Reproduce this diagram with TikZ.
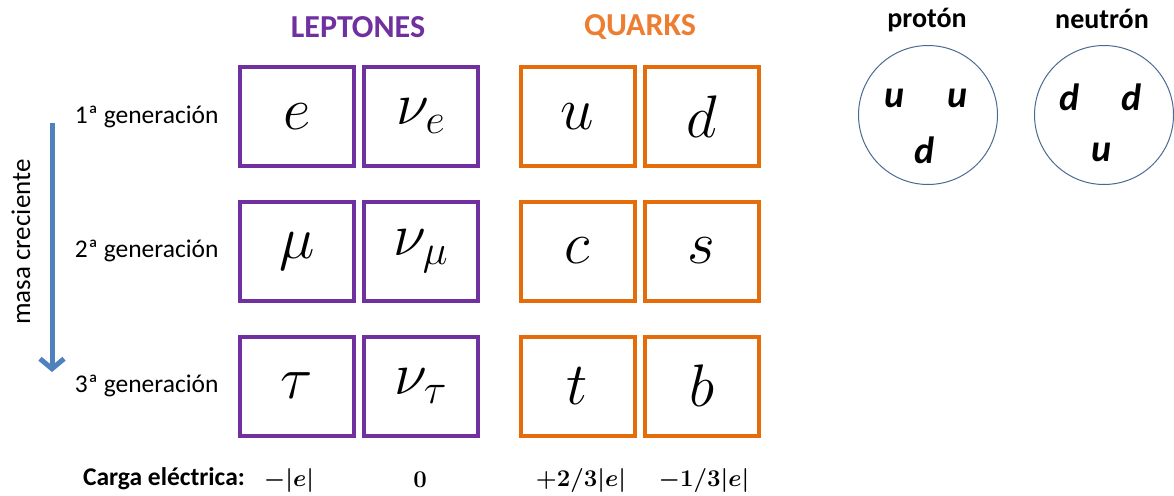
\RequirePackage{fix-cm}
\documentclass[tikz,border=0pt]{standalone}
\usepackage{fontspec}
\setmainfont{Carlito}
\usetikzlibrary{arrows.meta}
\definecolor{leptonpurple}{HTML}{7030A0}
\definecolor{quarkorange}{HTML}{E46C0A}
\definecolor{titleorange}{HTML}{ED7D31}
\definecolor{massblue}{HTML}{4F81BD}
\definecolor{hadronblue}{HTML}{4A6A94}
\begin{document}
\begin{tikzpicture}[x=1pt, y=-1pt,
    particle/.style={draw, line width=4pt, text=black, inner sep=0pt,
      minimum width=114pt, minimum height=99pt,
      font=\fontsize{60}{66}\selectfont},
    lepton/.style={particle, draw=leptonpurple},
    quark/.style={particle, draw=quarkorange},
    genlabel/.style={anchor=east, font=\fontsize{25.5}{28}\selectfont},
    charge/.style={font=\fontsize{24}{27}\selectfont\bfseries\boldmath},
    hadron/.style={draw=hadronblue, line width=1pt, circle, minimum size=139pt},
    constituent/.style={font=\fontsize{38}{42}\selectfont\bfseries\itshape}]
  \useasboundingbox (0,0) rectangle (1174,495);
  % --- titulos ---
  \node[font=\fontsize{32}{36}\selectfont\bfseries, text=leptonpurple] (leptones) at (358,27) {LEPTONES};
  \node[font=\fontsize{32}{36}\selectfont\bfseries, text=titleorange] (quarks) at (640,27) {QUARKS};
  % --- generaciones ---
  \foreach \g/\y in {1/116.5, 2/251, 3/386}{
    \node[genlabel] (gen\g) at (222, \y) {\g\textordfeminine{} generación};
  }
  % --- leptones ---
  \foreach \name/\sym/\x/\y in {e/e/297/116.5, nue/\nu_e/421/116.5,
    mu/\mu/297/251, numu/\nu_\mu/421/251,
    tau/\tau/297/386, nutau/\nu_\tau/421/386}{
    \node[lepton] (\name) at (\x, \y) {$\sym$};
  }
  % --- quarks ---
  \foreach \name/\sym/\x/\y in {u/u/577.5/116.5, d/d/701.5/116.5,
    c/c/577.5/251, s/s/701.5/251,
    t/t/577.5/386, b/b/701.5/386}{
    \node[quark] (\name) at (\x, \y) {$\sym$};
  }
  % --- masa creciente ---
  \coordinate (masstop) at (52,123);
  \coordinate (massbot) at (52,372);
  \draw[massblue, line width=5pt, -{Straight Barb[length=10pt, width=24pt]}] (masstop) -- (massbot);
  \node[rotate=90, font=\fontsize{27}{30}\selectfont] (masa) at (21,242) {masa creciente};
  % --- carga electrica ---
  \node[font=\fontsize{25.5}{28}\selectfont\bfseries] (carga) at (164,479) {Carga eléctrica:};
  \node[charge] (qe) at (289,480) {$-|e|$};
  \node[charge] (qnu) at (420,480) {$0$};
  \node[charge] (qup) at (581,480) {$+2/3|e|$};
  \node[charge] (qdown) at (704,480) {$-1/3|e|$};
  % --- proton y neutron ---
  \node[font=\fontsize{28}{31}\selectfont\bfseries] (protonlabel) at (927,20) {protón};
  \node[font=\fontsize{28}{31}\selectfont\bfseries] (neutronlabel) at (1102,19) {neutrón};
  \node[hadron] (proton) at (928,115) {};
  \node[hadron] (neutron) at (1104,115) {};
  \foreach \q/\x/\y in {u/895/98, u/958/98, d/925/150}{
    \node[constituent] at (\x, \y) {\q};
  }
  \foreach \q/\x/\y in {d/1070/97, d/1132/97, u/1102/152}{
    \node[constituent] at (\x, \y) {\q};
  }
\end{tikzpicture}
\end{document}
